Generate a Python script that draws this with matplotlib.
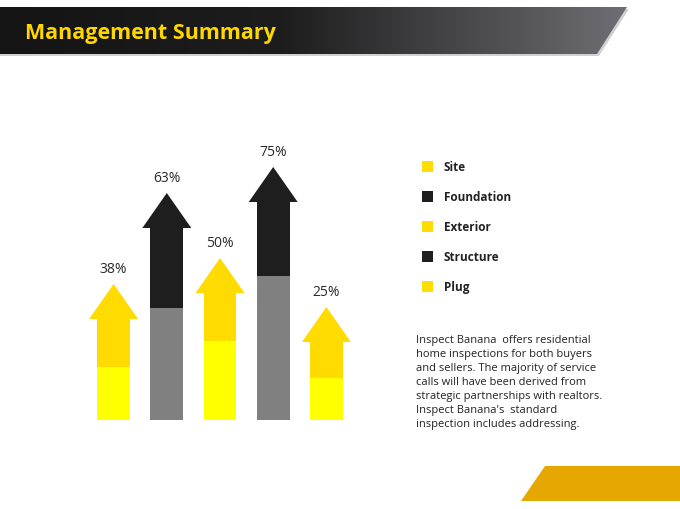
import numpy as np
import matplotlib.pyplot as plt
from matplotlib.patches import Polygon
from matplotlib.colors import LinearSegmentedColormap

# data
labels = ["38%", "63%", "50%", "75%", "25%"]
legend_names = ["Site", "Foundation", "Exterior", "Structure", "Plug"]
lower_vals = [53, 112, 79, 144, 42]      # light lower part of each arrow
shaft_vals = [101, 192, 127, 218, 78]    # top of the shaft (head base)
head_len = 35
dark_series = [False, True, False, True, False]

paragraph = ("Inspect Banana  offers residential\n"
             "home inspections for both buyers\n"
             "and sellers. The majority of service\n"
             "calls will have been derived from\n"
             "strategic partnerships with realtors.\n"
             "Inspect Banana's  standard\n"
             "inspection includes addressing.")

plt.rcParams['font.family'] = ['Open Sans', 'DejaVu Sans']

fig = plt.figure(figsize=(6.8, 5.1), dpi=100)
fig.patch.set_facecolor('white')

# background axes in pixel units for the slide decoration
bg = fig.add_axes([0, 0, 1, 1])
bg.set_xlim(0, 680)
bg.set_ylim(510, 0)
bg.axis('off')

# header band with shadow and gradient
shadow = Polygon([(0, 10), (629, 10), (599, 57), (0, 57)], closed=True,
                 facecolor='#d0d0d0', edgecolor='none', zorder=1)
bg.add_patch(shadow)
band = Polygon([(0, 8), (627, 8), (597, 55), (0, 55)], closed=True,
               facecolor='none', edgecolor='none', zorder=2)
bg.add_patch(band)
cmap = LinearSegmentedColormap.from_list(
    'hdr', [(0, '#141414'), (0.45, '#1d1d1d'), (1, '#6e6e74')])
grad = np.linspace(0, 1, 256).reshape(1, -1)
im = bg.imshow(grad, cmap=cmap, extent=(0, 627, 55, 8), aspect='auto', zorder=2)
im.set_clip_path(band)
bg.text(25, 33, "Management Summary", color='#FFD700', fontsize=15.5,
        fontweight='bold', va='center', ha='left', zorder=3)

# gold shape bottom right
gold = Polygon([(545, 467), (680, 467), (680, 502), (521, 502)], closed=True,
               facecolor='#E6A800', edgecolor='none', zorder=2)
bg.add_patch(gold)

# legend
yellow = '#FFDD00'
black = '#1E1E1E'
for i, name in enumerate(legend_names):
    y = 167 + i * 30
    c = black if dark_series[i] else yellow
    bg.add_patch(plt.Rectangle((422, y - 5.5), 11, 11, facecolor=c, edgecolor='none'))
    bg.text(444, y + 0.5, name, fontsize=8.5, fontweight='bold', color='#222222',
            va='center', ha='left')

bg.text(416, 335, paragraph, fontsize=8.0, color='#222222', va='top', ha='left',
        linespacing=1.38)

# chart axes
ax = fig.add_axes([87 / 680, (510 - 421) / 510, 266 / 680, 280 / 510])
ax.set_xlim(-0.5, 4.5)
ax.set_ylim(0, 280)
ax.axis('off')

x = np.arange(len(labels))
shaft_w = 0.62
head_w = 0.92
for i in x:
    if dark_series[i]:
        low_c, up_c = '#808080', '#1E1E1E'
    else:
        low_c, up_c = '#FFFF00', '#FFDB00'
    ax.bar(i, lower_vals[i], width=shaft_w, color=low_c, linewidth=0)
    ax.bar(i, shaft_vals[i] - lower_vals[i], bottom=lower_vals[i],
           width=shaft_w, color=up_c, linewidth=0)
    tip = shaft_vals[i] + head_len
    ax.add_patch(Polygon([(i - head_w / 2, shaft_vals[i]),
                          (i + head_w / 2, shaft_vals[i]),
                          (i, tip)], closed=True, facecolor=up_c,
                         edgecolor='none'))
    ax.text(i, tip + 15, labels[i], ha='center', va='center', fontsize=10,
            color='#2a2a2a')

fig.savefig('out.png', dpi=100)
